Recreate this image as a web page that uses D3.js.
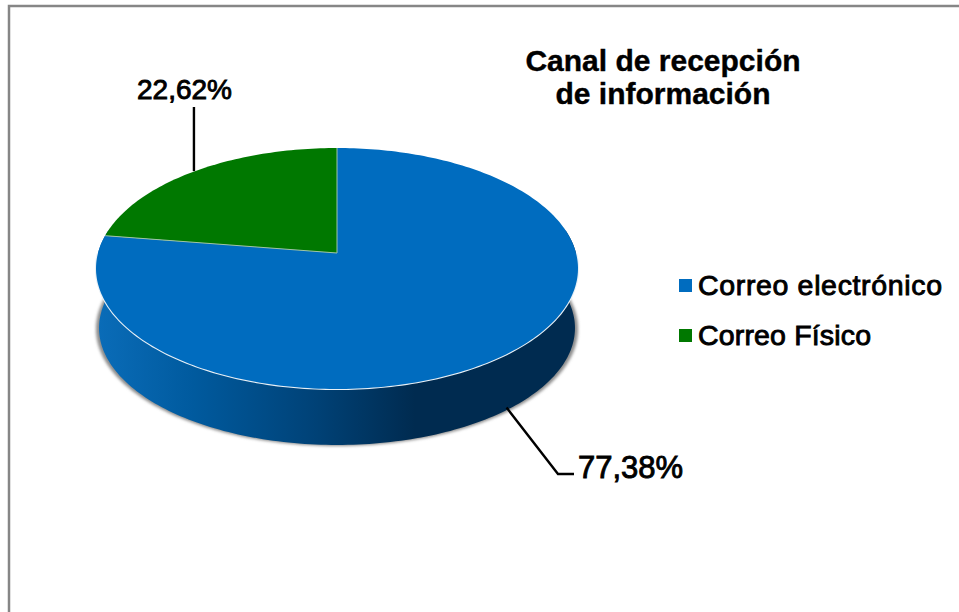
<!DOCTYPE html>
<html lang="es">
<head>
  <meta charset="UTF-8">
  <title>Canal de recepción de información</title>
  <script src="https://d3js.org/d3.v7.min.js"></script>
  <style>
    body, html { margin: 0; padding: 0; background: #fff; overflow: hidden; }
    svg { display: block; }
    text { font-family: "Liberation Sans", Arial, sans-serif; fill: #000; stroke: #000; stroke-width: 0.9px; }
    text.title { stroke-width: 0.4px; }
  </style>
</head>
<body>
  <svg id="chart" width="959" height="612"></svg>
  <script>
    const categories = ["Correo electrónico", "Correo Físico"];
    const values = [77.38, 22.62];
    const valueLabels = ["77,38%", "22,62%"];
    const titleLines = ["Canal de recepción", "de información"];
    const colors = ["#006cbf", "#007800"];

    const svg = d3.select("#chart");
    const defs = svg.append("defs");

    // frame
    svg.append("path")
      .attr("d", "M9 612V6H959")
      .attr("fill", "none")
      .attr("stroke", "#868686")
      .attr("stroke-width", 2.5);

    // wall gradient
    const grad = defs.append("linearGradient")
      .attr("id", "wall")
      .attr("gradientUnits", "userSpaceOnUse")
      .attr("x1", 98).attr("x2", 578).attr("y1", 0).attr("y2", 0);
    [[0, "#0a6cb8"], [0.2, "#005a9e"], [0.45, "#004277"], [0.66, "#002b50"], [1, "#002b50"]]
      .forEach(([o, c]) => grad.append("stop").attr("offset", o).attr("stop-color", c));

    const blur = defs.append("filter").attr("id", "soft")
      .attr("x", "-5%").attr("y", "-5%").attr("width", "110%").attr("height", "110%");
    blur.append("feGaussianBlur").attr("stdDeviation", 1.6);

    // perspective projection of the pie plane
    const cx = 337;
    const persp = 0.1286;
    const topPlane = { y0: 253, a: 239, b: 118.5 };
    const basePlane = { y0: 313, a: 236, b: 115 };

    function project(angle, plane) {
      const u = Math.sin(angle), v = Math.cos(angle);
      const w = 1 + persp * v;
      return [cx + plane.a * u / w, plane.y0 - plane.b * v / w];
    }

    function rim(a0, a1, plane) {
      const n = Math.max(2, Math.ceil(Math.abs(a1 - a0) / 0.02));
      return d3.range(n + 1).map(i => project(a0 + (a1 - a0) * i / n, plane));
    }

    const pie = d3.pie().sort(null).startAngle(0).endAngle(2 * Math.PI);
    const slices = pie(values);
    const line = d3.line();

    // soft shadow under the disc
    svg.append("path")
      .attr("d", line(rim(0, 2 * Math.PI, { ...basePlane, y0: basePlane.y0 + 1, a: basePlane.a + 3 })) + "Z")
      .attr("fill", "#8c8c8c")
      .attr("filter", "url(#soft)");

    // side wall: band between the top rim and the base rim
    const wallA = Math.PI / 2 - 0.2, wallB = 3 * Math.PI / 2 + 0.2;
    svg.append("path")
      .attr("d", line(rim(wallA, wallB, topPlane).concat(rim(wallB, wallA, basePlane))) + "Z")
      .attr("fill", "url(#wall)");

    // white rim under the top face
    svg.append("path")
      .attr("d", line(rim(Math.PI / 2, 3 * Math.PI / 2, topPlane)))
      .attr("fill", "none")
      .attr("stroke", "#e8f0f6")
      .attr("stroke-width", 2.2);

    // top face slices
    svg.selectAll("path.slice")
      .data(slices)
      .join("path")
      .attr("class", "slice")
      .attr("fill", (d, i) => colors[i])
      .attr("d", d => line([[cx, topPlane.y0]].concat(rim(d.startAngle, d.endAngle, topPlane))) + "Z");

    // light seams between the slices
    slices.forEach(d => {
      svg.append("path")
        .attr("d", line([[cx, topPlane.y0], project(d.startAngle, topPlane)]))
        .attr("stroke", "#9fc4a8")
        .attr("stroke-width", 1)
        .attr("fill", "none");
    });

    // leader lines from each slice's mid angle
    const mid = d => (d.startAngle + d.endAngle) / 2;
    const blueAnchor = project(mid(slices[0]), basePlane);
    const greenAnchor = project(mid(slices[1]), topPlane);

    svg.append("path")
      .attr("d", line([[blueAnchor[0] - 1, blueAnchor[1] - 2], [558, 474], [574, 474]]))
      .attr("fill", "none").attr("stroke", "#000").attr("stroke-width", 2.4);
    svg.append("path")
      .attr("d", line([[greenAnchor[0] - 1, 107], [greenAnchor[0] - 1, greenAnchor[1]]]))
      .attr("fill", "none").attr("stroke", "#000").attr("stroke-width", 2.4);

    // value labels
    svg.append("text").attr("x", 578).attr("y", 478)
      .attr("font-size", 31).text(valueLabels[0]);
    svg.append("text").attr("x", 137).attr("y", 99)
      .attr("font-size", 28).text(valueLabels[1]);

    // title
    svg.selectAll("text.title")
      .data(titleLines)
      .join("text")
      .attr("class", "title")
      .attr("x", 663)
      .attr("y", (d, i) => 71 + i * 33)
      .attr("text-anchor", "middle")
      .attr("font-size", 30)
      .attr("font-weight", "bold")
      .text(d => d);

    // legend
    const legendY = d3.scaleBand().domain(categories).range([260.5, 360.5]);
    const legend = svg.selectAll("g.legend")
      .data(categories)
      .join("g")
      .attr("class", "legend")
      .attr("transform", d => `translate(679,${legendY(d) + legendY.bandwidth() / 2})`);
    legend.append("rect")
      .attr("x", 0).attr("y", -6.5).attr("width", 13).attr("height", 13)
      .attr("fill", (d, i) => colors[i]);
    legend.append("text")
      .attr("x", 19).attr("y", 9.5)
      .attr("font-size", 28.5)
      .attr("textLength", (d, i) => i === 0 ? 244 : 173)
      .text(d => d);
  </script>
</body>
</html>
